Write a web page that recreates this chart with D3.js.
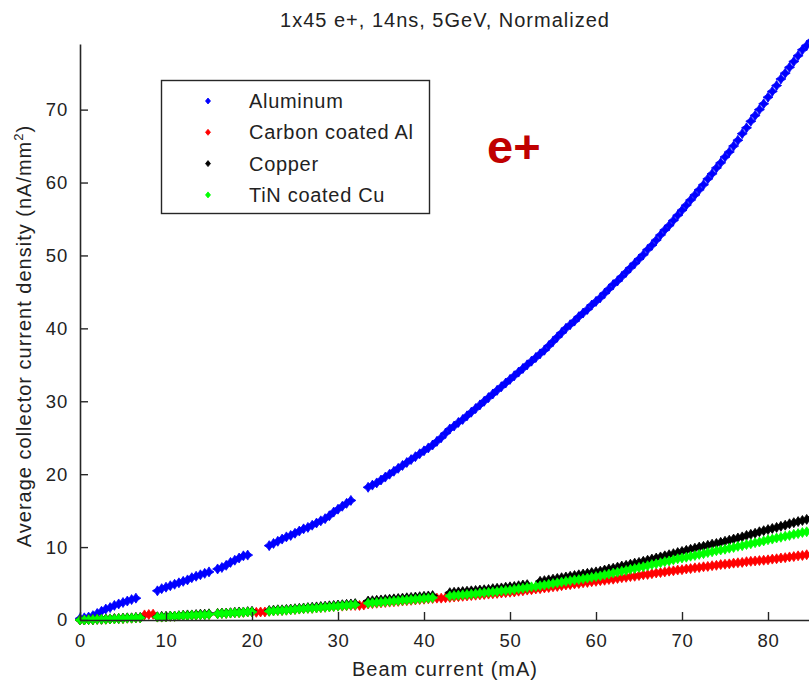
<!DOCTYPE html>
<html>
<head>
<meta charset="utf-8">
<script src="https://cdn.jsdelivr.net/npm/d3@7"></script>
<style>
  html, body { margin: 0; padding: 0; background: #fff; }
  svg { display: block; }
  text { font-family: "Liberation Sans", Arial, sans-serif; fill: #222; }
</style>
</head>
<body>
<svg id="chart" width="809" height="681"></svg>
<script>
// ---------- DATA ----------
const title = "1x45 e+, 14ns, 5GeV, Normalized";
const xLabel = "Beam current (mA)";
const seriesNames = ["Aluminum", "Carbon coated Al", "Copper", "TiN coated Cu"];
const seriesColors = ["#0000ff", "#ff0000", "#000000", "#00ff00"];
const xTicks = [0, 10, 20, 30, 40, 50, 60, 70, 80];
const yTicks = [0, 10, 20, 30, 40, 50, 60, 70];

// beam current (mA) sample positions
const current = [
  0,0.5,1,1.5,2,2.5,3,3.5,4,4.5,
  5,5.5,6,6.5,7,7.5,8,8.5,9,9.5,
  10,10.5,11,11.5,12,12.5,13,13.5,14,14.5,
  15,15.5,16,16.5,17,17.5,18,18.5,19,19.5,
  20,20.5,21,21.5,22,22.5,23,23.5,24,24.5,
  25,25.5,26,26.5,27,27.5,28,28.5,29,29.5,
  30,30.5,31,31.5,32,32.5,33,33.5,34,34.5,
  35,35.5,36,36.5,37,37.5,38,38.5,39,39.5,
  40,40.5,41,41.5,42,42.5,43,43.5,44,44.5,
  45,45.5,46,46.5,47,47.5,48,48.5,49,49.5,
  50,50.5,51,51.5,52,52.5,53,53.5,54,54.5,
  55,55.5,56,56.5,57,57.5,58,58.5,59,59.5,
  60,60.5,61,61.5,62,62.5,63,63.5,64,64.5,
  65,65.5,66,66.5,67,67.5,68,68.5,69,69.5,
  70,70.5,71,71.5,72,72.5,73,73.5,74,74.5,
  75,75.5,76,76.5,77,77.5,78,78.5,79,79.5,
  80,80.5,81,81.5,82,82.5,83,83.5,84,84.5,
  85
];

const aluminum = [
  0.2,0.3,0.4,0.6,0.9,1.2,1.5,1.7,2.0,2.2,
  2.4,2.6,2.8,3.0,null,null,null,null,4.0,4.3,
  4.5,4.7,4.9,5.1,5.3,5.5,5.8,6.0,6.2,6.4,
  6.6,null,7.0,7.2,7.5,7.9,8.2,8.5,8.8,8.9,
  null,null,null,null,10.2,10.5,10.8,11.1,11.4,11.6,
  11.9,12.2,12.5,12.7,13.0,13.3,13.6,13.9,14.3,14.8,
  15.2,15.6,16.0,16.4,null,null,null,18.2,18.5,18.8,
  19.2,19.6,20.0,20.4,20.8,21.2,21.6,22.0,22.4,22.8,
  23.2,23.6,24.0,24.5,25.0,25.6,26.2,26.6,27.1,27.5,
  28.0,28.5,29.0,29.5,30.0,30.5,31.0,31.5,32.0,32.5,
  33.0,33.5,34.0,34.5,35.0,35.5,36.0,36.5,37.0,37.6,
  38.2,38.8,39.4,40.0,40.5,41.0,41.6,42.1,42.6,43.2,
  43.7,44.2,44.8,45.4,46.0,46.5,47.1,47.7,48.3,48.9,
  49.5,50.1,50.8,51.4,52.1,52.8,53.5,54.1,54.8,55.5,
  56.2,56.9,57.6,58.3,59.0,59.7,60.5,61.2,62.0,62.7,
  63.5,64.2,65.0,65.8,66.7,67.5,68.4,69.2,70.0,70.8,
  71.7,72.5,73.3,74.2,75.0,75.8,76.6,77.4,78.2,78.8,
  79.4
];

const carbonAl = [
  0.0,0.0,0.05,0.05,0.1,0.1,0.1,0.15,0.15,0.2,
  0.2,0.25,0.25,0.3,0.3,0.7,0.75,0.8,0.4,0.4,
  0.45,0.5,0.5,0.55,0.6,0.6,0.65,0.65,0.7,0.7,
  0.75,null,0.85,0.9,0.9,0.95,1.0,1.0,1.05,1.1,
  1.1,1.05,1.1,1.1,1.2,1.25,1.3,1.3,1.35,1.4,
  1.45,1.5,1.55,1.6,1.6,1.65,1.7,1.75,1.8,1.85,
  1.9,1.9,1.95,2.0,2.0,2.0,2.05,2.2,2.25,2.3,
  2.35,2.4,2.45,2.5,2.55,2.6,2.65,2.7,2.75,2.8,
  2.85,2.9,2.95,3.0,3.0,3.05,3.1,3.15,3.2,3.25,
  3.3,3.35,3.4,3.45,3.5,3.55,3.6,3.65,3.7,3.75,
  3.8,3.85,3.95,4.0,4.1,4.15,4.25,4.3,4.4,4.45,
  4.55,4.6,4.7,4.8,4.85,4.95,5.0,5.1,5.15,5.25,
  5.3,5.4,5.45,5.55,5.6,5.7,5.8,5.85,5.95,6.0,
  6.1,6.2,6.25,6.35,6.45,6.5,6.6,6.7,6.75,6.85,
  6.9,7.0,7.05,7.15,7.2,7.3,7.35,7.45,7.5,7.6,
  7.65,7.7,7.8,7.85,7.9,8.0,8.05,8.1,8.15,8.2,
  8.25,8.35,8.4,8.5,8.55,8.65,8.7,8.8,8.85,8.95,
  9.0
];

const copper = [
  0.0,0.0,0.05,0.05,0.1,0.1,0.15,0.15,0.2,0.2,
  0.25,0.3,0.3,0.35,0.35,null,null,null,0.45,0.5,
  0.5,0.55,0.55,0.6,0.65,0.7,0.7,0.75,0.8,0.8,
  0.85,null,0.9,0.95,0.95,1.0,1.05,1.1,1.1,1.15,
  1.2,null,null,null,1.3,1.35,1.4,1.4,1.45,1.5,
  1.55,1.6,1.65,1.7,1.75,1.8,1.85,1.9,1.95,2.0,
  2.05,2.1,2.15,2.2,2.25,null,null,2.6,2.65,2.7,
  2.75,2.8,2.85,2.9,2.95,3.0,3.05,3.1,3.15,3.2,
  3.25,3.3,3.35,null,null,null,3.75,3.8,3.85,3.9,
  3.95,4.0,4.05,4.1,4.15,4.2,4.3,4.35,4.4,4.5,
  4.55,4.6,4.7,4.8,4.85,null,null,5.3,5.4,5.5,
  5.6,5.7,5.8,5.9,6.0,6.1,6.2,6.3,6.4,6.5,
  6.6,6.7,6.85,7.0,7.1,7.25,7.4,7.5,7.65,7.8,
  7.9,8.05,8.2,8.35,8.5,8.65,8.8,8.95,9.1,9.25,
  9.4,9.55,9.7,9.85,10.0,10.1,10.25,10.4,10.5,10.65,
  10.8,10.95,11.1,11.25,11.4,11.6,11.75,11.9,12.1,12.25,
  12.4,12.55,12.7,12.85,13.0,13.2,13.35,13.5,13.65,13.8,
  13.95
];

const tinCu = [
  0.0,0.0,0.05,0.05,0.1,0.1,0.1,0.15,0.15,0.2,
  0.2,0.25,0.25,0.3,0.3,null,null,null,0.4,0.4,
  0.45,0.5,0.5,0.55,0.6,0.6,0.65,0.65,0.7,0.7,
  0.75,null,0.85,0.9,0.9,0.95,1.0,1.0,1.05,1.1,
  1.1,null,null,null,1.2,1.25,1.3,1.3,1.35,1.4,
  1.45,1.5,1.55,1.6,1.6,1.65,1.7,1.75,1.8,1.85,
  1.9,1.95,2.0,2.05,2.1,null,null,2.3,2.35,2.4,
  2.45,2.5,2.55,2.6,2.65,2.7,2.75,2.8,2.85,2.9,
  2.95,3.0,3.05,null,null,null,3.3,3.35,3.4,3.45,
  3.5,3.55,3.6,3.7,3.75,3.8,3.85,3.9,4.0,4.05,
  4.1,4.2,4.3,4.35,4.45,4.55,4.6,4.7,4.8,4.9,
  5.0,5.1,5.2,5.3,5.4,5.5,5.55,5.65,5.75,5.85,
  5.95,6.05,6.2,6.3,6.45,6.55,6.7,6.8,6.95,7.05,
  7.2,7.3,7.45,7.6,7.7,7.85,8.0,8.1,8.25,8.4,
  8.5,8.6,8.75,8.85,9.0,9.1,9.25,9.35,9.5,9.6,
  9.7,9.85,9.95,10.1,10.2,10.35,10.45,10.6,10.7,10.85,
  11.0,11.1,11.25,11.35,11.5,11.6,11.75,11.85,12.0,12.1,
  12.2
];

const seriesValues = [aluminum, carbonAl, copper, tinCu];

// ---------- LAYOUT ----------
const svg = d3.select("#chart");
const plot = { left: 80, right: 811, top: 44, bottom: 620 };
const FONT = '"Liberation Sans", Arial, sans-serif';

const x = d3.scaleLinear().domain([0, 85]).range([plot.left, plot.right]);
const y = d3.scaleLinear().domain([0, 79]).range([plot.bottom, plot.top]);

// data markers (plus/diamond star, like the original points)
const markerPath = "M0,-5L2,-2L5,0L2,2L0,5L-2,2L-5,0L-2,-2Z";
seriesValues.forEach((vals, si) => {
  const pts = current.map((c, i) => ({ c, v: vals[i] })).filter(d => d.v !== null);
  const g = svg.append("g").attr("class", "series-" + si);
  g.selectAll("path")
    .data(pts)
    .join("path")
    .attr("d", markerPath)
    .attr("transform", d => `translate(${x(d.c)},${y(d.v)})`)
    .attr("fill", seriesColors[si])
    .attr("stroke", seriesColors[si])
    .attr("stroke-width", 0.8);
});

// axes
const axisColor = "#262626";
const xAxis = d3.axisBottom(x).tickValues(xTicks).tickSizeInner(-8).tickSizeOuter(0).tickPadding(14);
const yAxis = d3.axisLeft(y).tickValues(yTicks).tickSizeInner(-8).tickSizeOuter(0).tickPadding(12);

const gx = svg.append("g").attr("transform", `translate(0,${plot.bottom})`).call(xAxis);
const gy = svg.append("g").attr("transform", `translate(${plot.left},0)`).call(yAxis);
[gx, gy].forEach(g => {
  g.select(".domain").attr("stroke", axisColor).attr("stroke-width", 1.6);
  g.selectAll(".tick line").attr("stroke", axisColor).attr("stroke-width", 1.4);
  g.selectAll(".tick text")
    .attr("font-family", FONT)
    .attr("font-size", 18.5)
    .style("letter-spacing", "0.8px")
    .attr("fill", "#222");
});

// title
svg.append("text")
  .attr("x", 445).attr("y", 27)
  .attr("text-anchor", "middle")
  .attr("font-size", 20)
  .style("letter-spacing", "1px")
  .text(title);

// x label
svg.append("text")
  .attr("x", 445).attr("y", 676)
  .attr("text-anchor", "middle")
  .attr("font-size", 20)
  .style("letter-spacing", "1px")
  .text(xLabel);

// y label with superscript
const yl = svg.append("text")
  .attr("transform", `translate(31,${(plot.top + plot.bottom) / 2 + 4}) rotate(-90)`)
  .attr("text-anchor", "middle")
  .attr("font-size", 20)
  .style("letter-spacing", "1px");
yl.append("tspan").text("Average collector current density (nA/mm");
yl.append("tspan").attr("dy", -8).attr("font-size", 13).text("2");
yl.append("tspan").attr("dy", 8).text(")");

// legend
const legend = svg.append("g");
legend.append("rect")
  .attr("x", 161.5).attr("y", 80.5).attr("width", 268).attr("height", 133)
  .attr("fill", "#fff").attr("stroke", axisColor).attr("stroke-width", 1.4);
seriesNames.forEach((name, i) => {
  const cy = 101 + i * 31.3;
  legend.append("path")
    .attr("d", "M0,-3L2.5,0L0,3L-2.5,0Z")
    .attr("transform", `translate(208,${cy})`)
    .attr("fill", seriesColors[i]).attr("stroke", seriesColors[i]).attr("stroke-width", 0.8);
  legend.append("text")
    .attr("x", 249).attr("y", cy + 7)
    .attr("font-size", 20)
    .style("letter-spacing", "0.7px")
    .text(name);
});

// annotation
svg.append("text")
  .attr("x", 487).attr("y", 163)
  .attr("font-size", 47)
  .attr("font-weight", "bold")
  .style("fill", "#c00000")
  .text("e+");
</script>
</body>
</html>
